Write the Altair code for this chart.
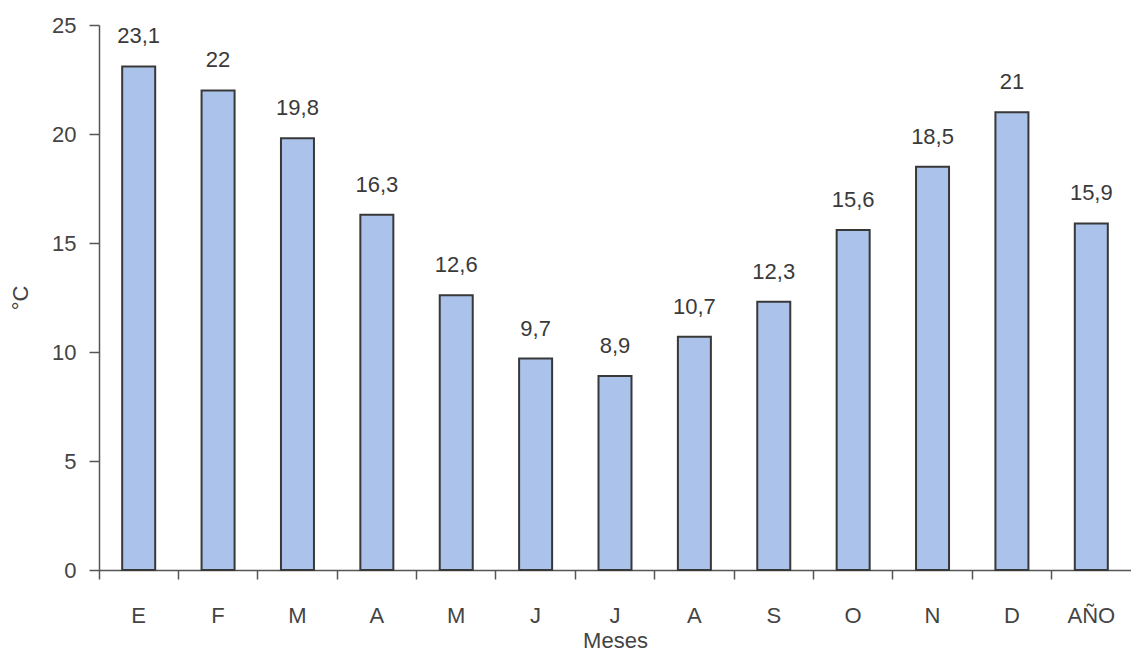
import altair as alt
import pandas as pd

# Mean monthly temperature (°C) and annual mean
keys = ["E", "F", "M1", "A1", "M2", "J1", "J2", "A2", "S", "O", "N", "D", "AÑO"]
labels = ["E", "F", "M", "A", "M", "J", "J", "A", "S", "O", "N", "D", "AÑO"]
values = [23.1, 22, 19.8, 16.3, 12.6, 9.7, 8.9, 10.7, 12.3, 15.6, 18.5, 21, 15.9]
value_text = ["23,1", "22", "19,8", "16,3", "12,6", "9,7", "8,9", "10,7", "12,3",
              "15,6", "18,5", "21", "15,9"]

df = pd.DataFrame({"key": keys, "label": labels, "temp": values, "txt": value_text})

label_map = "{" + ", ".join(f"'{k}': '{l}'" for k, l in zip(keys, labels)) + "}"

FONT = "Liberation Sans"
W, H = 1032, 545
AXIS_GREY = "#555555"
TEXT_GREY = "#444444"

x = alt.X(
    "key:N",
    sort=keys,
    scale=alt.Scale(paddingInner=0, paddingOuter=0),
    axis=alt.Axis(
        title="Meses",
        labelExpr=f"{label_map}[datum.value]",
        labelAngle=0,
        bandPosition=0,
        tickSize=9,
        labelPadding=26,
        titlePadding=4,
        domainColor=AXIS_GREY,
        tickColor=AXIS_GREY,
        domainWidth=1.5,
        tickWidth=1.5,
        labelFontSize=22,
        titleFontSize=22,
        labelColor=TEXT_GREY,
        titleColor=TEXT_GREY,
        labelFont=FONT,
        titleFont=FONT,
        titleFontWeight="normal",
    ),
)

y = alt.Y(
    "temp:Q",
    scale=alt.Scale(domain=[0, 25], nice=False),
    axis=alt.Axis(
        title="°C",
        values=[0, 5, 10, 15, 20, 25],
        grid=False,
        tickSize=10,
        labelPadding=13,
        titlePadding=19,
        domainColor=AXIS_GREY,
        tickColor=AXIS_GREY,
        domainWidth=1.5,
        tickWidth=1.5,
        labelFontSize=22,
        titleFontSize=22,
        labelColor=TEXT_GREY,
        titleColor=TEXT_GREY,
        labelFont=FONT,
        titleFont=FONT,
        titleFontWeight="normal",
    ),
)

bars = alt.Chart(df).mark_bar(
    size=33, color="#abc3eb", stroke="#383838", strokeWidth=2
).encode(x=x, y=y)

text = alt.Chart(df).mark_text(
    baseline="alphabetic", dy=-23, fontSize=22, font=FONT, color="#3a3a3a"
).encode(x=alt.X("key:N", sort=keys), y="temp:Q", text="txt:N")

chart = (
    alt.layer(bars, text)
    .properties(
        width=W,
        height=H,
        padding={"left": 99, "top": 25, "right": 0, "bottom": 82},
        autosize=alt.AutoSizeParams(type="none"),
        background="white",
    )
    .configure_view(stroke=None)
)

chart.save("out.html", embed_options={"renderer": "svg", "actions": False})
